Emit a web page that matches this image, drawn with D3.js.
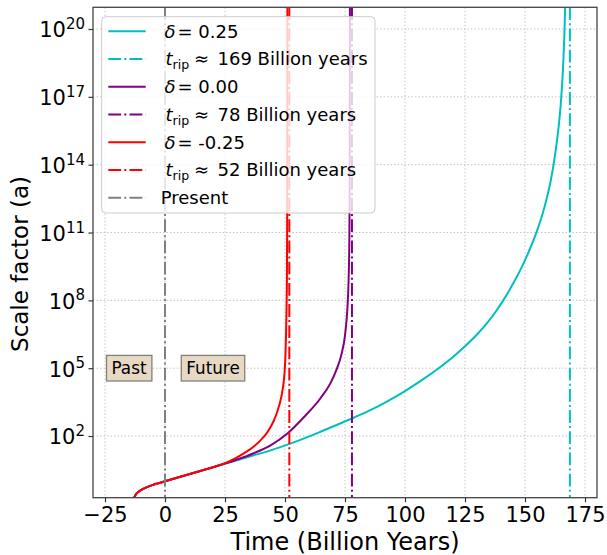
<!DOCTYPE html>
<html><head><meta charset="utf-8">
<script src="https://cdn.jsdelivr.net/npm/d3@7"></script>
<style>body{margin:0;background:#fff}svg{font-family:"DejaVu Sans",sans-serif}</style>
</head><body><svg id="c" width="607" height="555"></svg>
<script>
// ---------- data ----------
const xTicks = [-25, 0, 25, 50, 75, 100, 125, 150, 175];
const yTickExps = [2, 5, 8, 11, 14, 17, 20];

// shared early history (time in Gyr, log10 of scale factor)
const tEarly    = [-12.9, -12.4, -11.8, -11, -10, -9, -8, -7, -5, -3, -1, 0, 5, 10, 15, 20];
const logAEarly = [-0.73, -0.63, -0.54, -0.46, -0.39, -0.33, -0.28, -0.235, -0.16, -0.095, -0.031, 0.0, 0.155, 0.31, 0.465, 0.62];

const tCyan    = [25, 30, 37, 44, 51, 58, 65, 72, 79, 86, 93, 100, 107, 114, 120, 125, 130, 134, 138, 141, 145, 149, 152, 155, 157, 159.2, 160.7, 161.9, 163, 164, 164.8, 165.4, 166, 166.4, 166.8];
const logACyan = [0.775, 0.93, 1.147, 1.367, 1.619, 1.899, 2.2, 2.51, 2.83, 3.17, 3.56, 3.99, 4.47, 5.0, 5.5, 5.97, 6.49, 6.97, 7.53, 8.01, 8.73, 9.55, 10.26, 11.07, 11.71, 12.57, 13.28, 14.0, 14.8, 15.67, 16.55, 17.45, 18.65, 19.73, 21.17];

const tPurple    = [25, 30, 37, 44, 51, 57.75, 64.7, 68.9, 71.7, 73.5, 75, 76, 76.5, 76.8, 76.95, 77.05];
const logAPurple = [0.785, 0.96, 1.24, 1.59, 2.11, 2.82, 3.66, 4.33, 5.0, 5.6, 6.45, 7.65, 8.9, 10.6, 13, 21.5];

const tRed    = [25, 30, 34, 37, 40, 42, 44, 45.5, 47, 48, 48.75, 49.4, 49.8, 50.2, 50.45, 50.65, 50.8, 50.9, 51.0];
const logARed = [0.8, 1.06, 1.31, 1.54, 1.83, 2.07, 2.4, 2.72, 3.15, 3.52, 3.88, 4.35, 4.8, 5.6, 6.55, 7.7, 9.0, 11.5, 21.5];

const deltaLabels = ["0.25", "0.00", "-0.25"];
const ripTimes   = [168.7, 77.9, 51.8];
const ripLabels  = ["169", "78", "52"];
const presentTime = 0;
const eraLabels = ["Past", "Future"];
const eraTimes  = [-15, 20];
const eraLogA   = 5;

// ---------- layout ----------
const svg = d3.select("#c");
const L = 93, R = 597, T = 7.3, B = 497.7;
const x = d3.scaleLinear().domain([-30, 180]).range([L, R]);
const y = d3.scaleLog().domain([Math.pow(10, -0.727), Math.pow(10, 20.96)]).range([B, T]);
const colors = ["#00bfbf", "#800080", "#ff0000"];

svg.append("defs").append("clipPath").attr("id", "clip")
  .append("rect").attr("x", L).attr("y", T).attr("width", R - L).attr("height", B - T);

// grid
const grid = svg.append("g");
xTicks.forEach(v => grid.append("line").attr("x1", x(v)).attr("x2", x(v)).attr("y1", T).attr("y2", B)
  .attr("stroke", "#c4c4c4").attr("stroke-width", 1).attr("stroke-dasharray", "1.5,2"));
yTickExps.forEach(e => grid.append("line").attr("x1", L).attr("x2", R).attr("y1", y(Math.pow(10, e))).attr("y2", y(Math.pow(10, e)))
  .attr("stroke", "#c4c4c4").attr("stroke-width", 1).attr("stroke-dasharray", "1.5,2"));

// curves and rip lines
const plot = svg.append("g").attr("clip-path", "url(#clip)");
const line = d3.line().x(d => x(d[0])).y(d => y(Math.pow(10, d[1]))).curve(d3.curveMonotoneX);
const series = [[tCyan, logACyan], [tPurple, logAPurple], [tRed, logARed]];
const dashDot = "12.8,3.2,2,3.2";
series.forEach((s, i) => {
  const pts = tEarly.map((t, j) => [t, logAEarly[j]]).concat(s[0].map((t, j) => [t, s[1][j]]));
  plot.append("path").attr("d", line(pts)).attr("fill", "none").attr("stroke", colors[i]).attr("stroke-width", 2);
  plot.append("line").attr("x1", x(ripTimes[i])).attr("x2", x(ripTimes[i])).attr("y1", T).attr("y2", B)
    .attr("stroke", colors[i]).attr("stroke-width", 2).attr("stroke-dasharray", dashDot);
});
plot.append("line").attr("x1", x(presentTime)).attr("x2", x(presentTime)).attr("y1", T).attr("y2", B)
  .attr("stroke", "#808080").attr("stroke-width", 2).attr("stroke-dasharray", dashDot);

// era boxes
eraLabels.forEach((lab, i) => {
  const g = svg.append("g");
  const cx = x(eraTimes[i]), cy = y(Math.pow(10, eraLogA));
  const rect = g.append("rect");
  const t = g.append("text").attr("x", cx).attr("y", cy + 6).attr("text-anchor", "middle")
    .attr("font-size", 16.8).attr("fill", "#000").text(lab);
  const bb = t.node().getBBox();
  rect.attr("x", bb.x - 5).attr("y", cy - 12.8).attr("width", bb.width + 10).attr("height", 25.6)
    .attr("fill", "#e8d9c5").attr("stroke", "#808080").attr("stroke-width", 1.3);
});

// axes
const xAxis = svg.append("g").attr("transform", `translate(0,${B})`)
  .call(d3.axisBottom(x).tickValues(xTicks).tickSize(4.5).tickSizeOuter(0));
xAxis.select(".domain").remove();
xAxis.selectAll("line").attr("stroke", "#333").attr("stroke-width", 1.2);
xAxis.selectAll("text").attr("font-size", 21).attr("font-family", "DejaVu Sans").attr("fill", "#000")
  .attr("y", 24.6).attr("dy", null);

const yAxis = svg.append("g").attr("transform", `translate(${L},0)`)
  .call(d3.axisLeft(y).tickValues(yTickExps.map(e => Math.pow(10, e))).tickSize(4.5).tickSizeOuter(0));
yAxis.select(".domain").remove();
yAxis.selectAll("line").attr("stroke", "#333").attr("stroke-width", 1.2);
yAxis.selectAll("text").each(function(d) {
  const el = d3.select(this).text(null).attr("font-size", 21).attr("font-family", "DejaVu Sans")
    .attr("fill", "#000").attr("x", -8).attr("y", 7.9).attr("dy", null).attr("text-anchor", "end");
  el.append("tspan").text("10");
  el.append("tspan").attr("font-size", 15).attr("dy", -8.4).text(Math.round(Math.log10(d)));
});

// frame
svg.append("rect").attr("x", L).attr("y", T).attr("width", R - L).attr("height", B - T)
  .attr("fill", "none").attr("stroke", "#444").attr("stroke-width", 1.3);

// axis labels
svg.append("text").attr("x", (L + R) / 2).attr("y", 549.5).attr("text-anchor", "middle")
  .attr("font-size", 24).attr("fill", "#000").text("Time (Billion Years)");
svg.append("text").attr("transform", `translate(28,264) rotate(-90)`).attr("text-anchor", "middle")
  .attr("font-size", 23).attr("fill", "#000").text("Scale factor (a)");

// legend
const lg = svg.append("g");
lg.append("rect").attr("x", 101.7).attr("y", 16.7).attr("width", 273.3).attr("height", 196.3).attr("rx", 4)
  .attr("fill", "#fff").attr("fill-opacity", 0.8).attr("stroke", "#cccccc").attr("stroke-width", 1);
const row0 = 31.2, rowH = 27.75;
const legendColors = [colors[0], colors[0], colors[1], colors[1], colors[2], colors[2], "#808080"];
legendColors.forEach((c, k) => {
  const ry = row0 + k * rowH;
  const ln = lg.append("line").attr("x1", 108.3).attr("x2", 145.7).attr("y1", ry).attr("y2", ry)
    .attr("stroke", c).attr("stroke-width", 2);
  if (k % 2 === 1 || k === 6) ln.attr("stroke-dasharray", dashDot);
  const tx = lg.append("text").attr("y", ry + 6.5).attr("font-size", 18).attr("fill", "#000");
  if (k === 6) {
    tx.attr("x", 160.7).text("Present");
  } else if (k % 2 === 0) {
    const i = k / 2;
    tx.append("tspan").attr("x", 164.5).attr("font-style", "italic").text("δ");
    tx.append("tspan").attr("x", 177.5).text("= " + deltaLabels[i]);
  } else {
    const i = (k - 1) / 2;
    tx.append("tspan").attr("x", 165.5).attr("font-style", "italic").text("t");
    tx.append("tspan").attr("x", 172.5).attr("dy", 4).attr("font-size", 12.6).text("rip");
    tx.append("tspan").attr("x", 194).attr("dy", -4).text("≈");
    tx.append("tspan").attr("x", 217.5).text(ripLabels[i] + " Billion years");
  }
});
</script>
</body></html>
